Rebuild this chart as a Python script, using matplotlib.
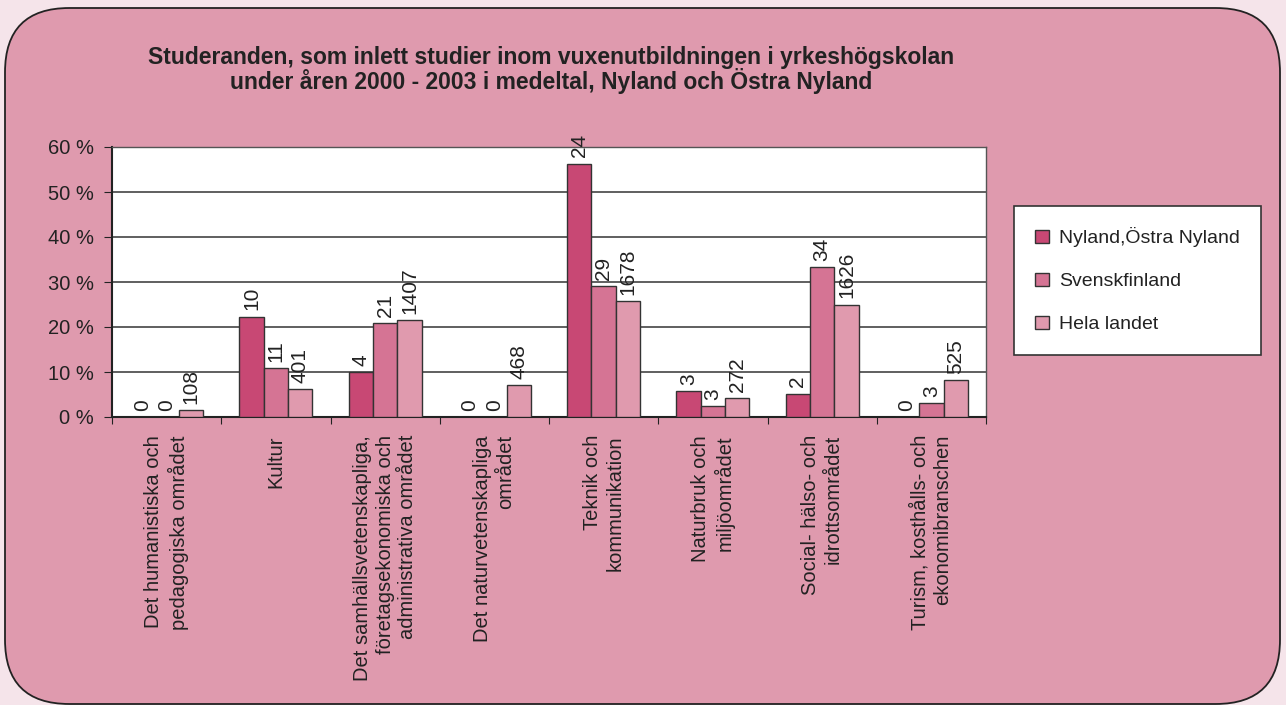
import numpy as np
import matplotlib
matplotlib.use("Agg")
import matplotlib.pyplot as plt
from matplotlib.patches import FancyBboxPatch
from matplotlib.ticker import FuncFormatter

plt.rcParams["font.family"] = ["Liberation Sans", "DejaVu Sans"]

categories = [
    "Det humanistiska och\npedagogiska området",
    "Kultur",
    "Det samhällsvetenskapliga,\nföretagsekonomiska och\nadministrativa området",
    "Det naturvetenskapliga\nområdet",
    "Teknik och\nkommunikation",
    "Naturbruk och\nmiljöområdet",
    "Social- hälso- och\nidrottsområdet",
    "Turism, kosthålls- och\nekonomibranschen",
]
series_names = ["Nyland,Östra Nyland", "Svenskfinland", "Hela landet"]

# share of students (%) per area
nyland_pct = [0.0, 22.3, 10.0, 0.0, 56.3, 5.8, 5.2, 0.0]
svfin_pct = [0.0, 10.8, 20.9, 0.0, 29.1, 2.4, 33.3, 3.1]
hela_pct = [1.6, 6.2, 21.6, 7.1, 25.8, 4.2, 25.0, 8.2]

# number of students shown above the bars
nyland_n = [0, 10, 4, 0, 24, 3, 2, 0]
svfin_n = [0, 11, 21, 0, 29, 3, 34, 3]
hela_n = [108, 401, 1407, 468, 1678, 272, 1626, 525]

colors = ["#c84874", "#d57494", "#e09aae"]
panel_color = "#df9aae"
outer_color = "#f5e4ea"

fig = plt.figure(figsize=(12.86, 7.05), dpi=100)
fig.patch.set_facecolor(outer_color)

# rounded panel behind everything
panel = FancyBboxPatch(
    (5 / 1286, 1 / 705), 1275 / 1286, 696 / 705,
    boxstyle="round,pad=0,rounding_size=0.05",
    transform=fig.transFigure, facecolor=panel_color, edgecolor="#222222",
    linewidth=1.3, mutation_aspect=1286 / 705, zorder=-5,
)
fig.patches.append(panel)

ax = fig.add_axes([112 / 1286, 1 - 417 / 705, 874 / 1286, 270 / 705])
ax.set_zorder(2)
ax.set_facecolor("white")

x = np.arange(len(categories))
w = 0.222
all_pct = [nyland_pct, svfin_pct, hela_pct]
all_n = [nyland_n, svfin_n, hela_n]
for i, (pct, n) in enumerate(zip(all_pct, all_n)):
    pos = x + (i - 1) * w
    ax.bar(pos, pct, width=w, color=colors[i], edgecolor="#333333",
           linewidth=1.0, label=series_names[i], zorder=3)
    for px, v, lab in zip(pos, pct, n):
        ax.annotate(str(lab), xy=(px, v), xytext=(0, 4.5),
                    textcoords="offset points", rotation=90,
                    ha="center", va="bottom", fontsize=15, color="#222222",
                    zorder=4, annotation_clip=False)

ax.set_xlim(-0.5, len(categories) - 0.5)
ax.set_ylim(0, 60)
ax.set_yticks(range(0, 61, 10))
ax.yaxis.set_major_formatter(FuncFormatter(lambda v, p: f"{int(v)} %"))
ax.yaxis.grid(True, color="#444444", linewidth=1.2, zorder=1)
ax.set_axisbelow(True)

ax.set_xticks(np.arange(len(categories) + 1) - 0.5)
ax.set_xticklabels([])
ax.tick_params(axis="x", direction="out", length=5, color="#222222")
ax.tick_params(axis="y", direction="out", length=6, color="#222222",
               labelsize=14.5, labelcolor="#222222", pad=7)

for side in ["left", "bottom"]:
    ax.spines[side].set_color("#222222")
    ax.spines[side].set_linewidth(1.5)
for side in ["top", "right"]:
    ax.spines[side].set_color("#555555")
    ax.spines[side].set_linewidth(1.0)

for xi, cat in zip(x, categories):
    ax.annotate(cat, xy=(xi, 0), xycoords=("data", "axes fraction"),
                xytext=(0, -13), textcoords="offset points",
                rotation=90, ha="center", va="top", multialignment="right",
                fontsize=14.5, color="#222222", linespacing=1.25)

fig.text(551 / 1286, 1 - 70 / 705,
         "Studeranden, som inlett studier inom vuxenutbildningen i yrkeshögskolan\n"
         "under åren 2000 - 2003 i medeltal, Nyland och Östra Nyland",
         ha="center", va="center", fontsize=16.5, fontweight="bold",
         color="#222222", linespacing=0.95)

leg = fig.legend(loc="upper left", bbox_to_anchor=(1014 / 1286, 1 - 206 / 705),
                 frameon=True, fancybox=False, fontsize=14, framealpha=1,
                 facecolor="white", labelspacing=1.3, handlelength=0.7,
                 handleheight=0.7, handletextpad=0.5, borderpad=1.1,
                 borderaxespad=0)
leg.get_frame().set_edgecolor("#333333")
leg.get_frame().set_linewidth(1.2)
for t in leg.get_texts():
    t.set_color("#222222")

fig.savefig("out.png", dpi=100, facecolor=fig.get_facecolor())
